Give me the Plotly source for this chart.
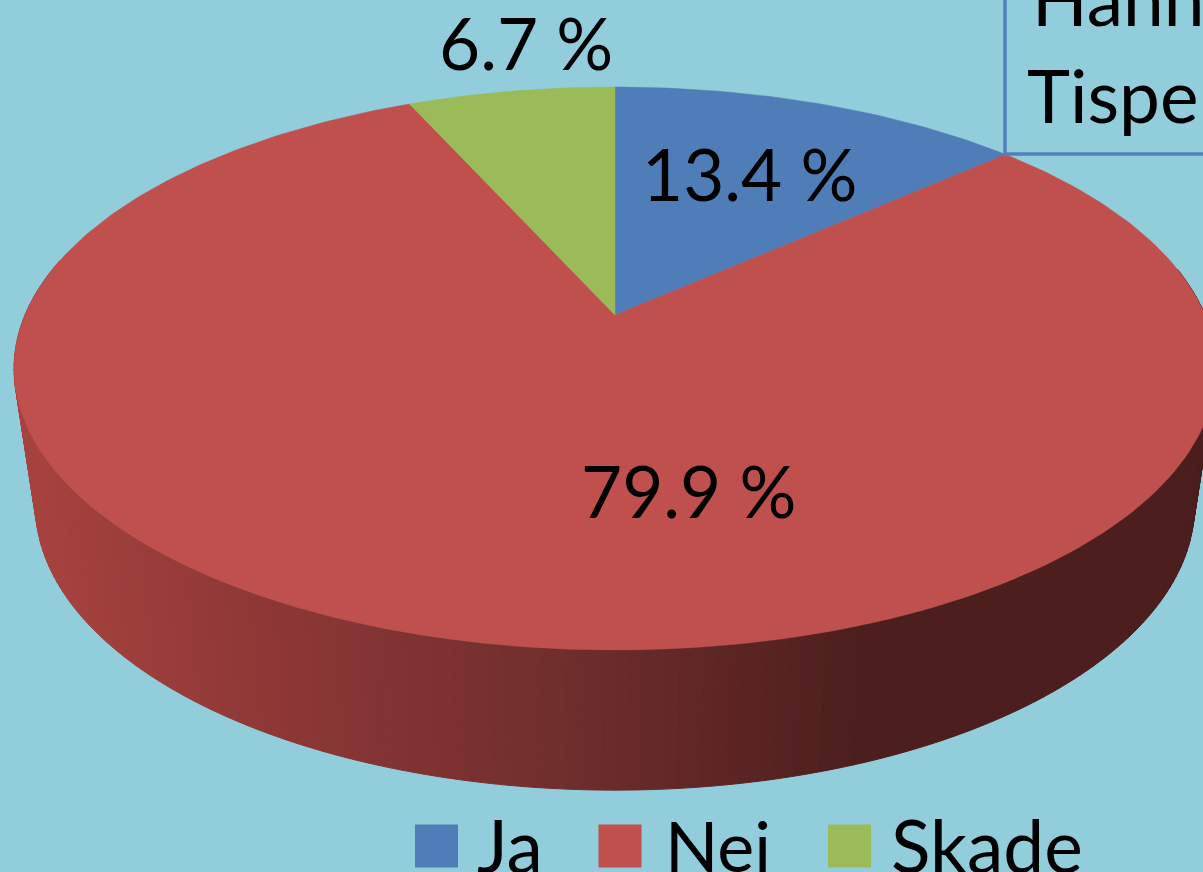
import math
import plotly.graph_objects as go

categories = ["Ja", "Nei", "Skade"]
values = [13.4, 79.9, 6.7]
labels = ["13.4 %", "79.9 %", "6.7 %"]
box_lines = ["Hannhund", "Tispe"]

BG = "#92CDDC"
COLORS = {"Ja": "#4F7DB8", "Nei": "#BF504D", "Skade": "#9BBB59"}
FONT = "Lato"
W, H = 1203, 872

# Perspective projection of the pie disc, pixel-space axes
K = 0.19
TOP = dict(cx=615, cy=315, a=271.3, b=590)
BOT = dict(cx=615, cy=451, a=274.7, b=569)


def project(deg, r=1.0, d=TOP):
    t = math.radians(deg)
    u, v = r * math.sin(t), r * math.cos(t)
    w = 1 + K * v
    return d["cx"] + d["b"] * u / w, d["cy"] - d["a"] * v / w


def side_color(x):
    stops = [(20, (170, 67, 64)), (300, (139, 55, 53)), (560, (112, 46, 45)),
             (860, (76, 30, 30)), (1300, (76, 30, 30))]
    for (x0, c0), (x1, c1) in zip(stops, stops[1:]):
        if x <= x1:
            f = max(0, (x - x0) / (x1 - x0))
            return "rgb(%d,%d,%d)" % tuple(round(p + (q - p) * f) for p, q in zip(c0, c1))
    return "rgb(76,30,30)"


fig = go.Figure()

# Side wall of the "Nei" slice (visible front half), shaded strip by strip
step = 1.0
start = 80.0
n = int((282 - start) / step)
for i in range(n):
    a0, a1 = start + i * step, start + (i + 1) * step
    p0, p1 = project(a0), project(a1)
    q1, q0 = project(a1, d=BOT), project(a0, d=BOT)
    col = side_color((q0[0] + q1[0]) / 2)
    fig.add_trace(go.Scatter(
        x=[p0[0], p1[0], q1[0], q0[0], p0[0]],
        y=[p0[1], p1[1], q1[1], q0[1], p0[1]],
        mode="lines", fill="toself", fillcolor=col, line=dict(color=col, width=1),
        hoverinfo="skip", showlegend=False))

# Top face: slices computed from the values, clockwise from 12 o'clock
total = sum(values)
angle = 0.0
for cat, val in zip(categories, values):
    sweep = 360 * val / total
    m = max(4, int(sweep))
    pts = [project(angle + sweep * j / m) for j in range(m + 1)]
    xs = [TOP["cx"]] + [p[0] for p in pts] + [TOP["cx"]]
    ys = [TOP["cy"]] + [p[1] for p in pts] + [TOP["cy"]]
    fig.add_trace(go.Scatter(x=xs, y=ys, mode="lines", fill="toself",
                             fillcolor=COLORS[cat], line=dict(color=COLORS[cat], width=0.5),
                             name=cat, hoverinfo="skip", showlegend=False))
    angle += sweep

# Legend swatches
legend_x = [436.5, 620, 849.5]
for cat, lx in zip(categories, legend_x):
    fig.add_trace(go.Scatter(x=[lx], y=[846], mode="markers",
                             marker=dict(symbol="square", size=43, color=COLORS[cat], line=dict(width=0)),
                             name=cat, hoverinfo="skip", showlegend=False, cliponaxis=False))


def note(text, x, y, size=71, anchor="left", yshift=0):
    fig.add_annotation(x=x, y=y, text=text, showarrow=False, xanchor=anchor, yanchor="middle",
                       xref="x", yref="y", font=dict(family=FONT, size=size, color="#000000"),
                       align="left", yshift=yshift)


label_pos = [(749, 173), (688, 490), (526, 42)]
for lab, (x, y) in zip(labels, label_pos):
    note(lab, x, y, anchor="center")

for cat, x, size in zip(categories, [475, 663, 889], [73, 70, 73]):
    note(cat, x, 845, size=size)

note(box_lines[0], 1030, 0, size=73, yshift=2)
note(box_lines[1], 1025, 95, size=73)

fig.add_shape(type="rect", x0=1005, y0=-20, x1=1300, y1=154,
              line=dict(color="#4F81BD", width=3.5), fillcolor="rgba(0,0,0,0)", layer="above")

fig.update_layout(
    width=W, height=H, autosize=False,
    margin=dict(l=0, r=0, t=0, b=0, pad=0),
    paper_bgcolor=BG, plot_bgcolor=BG, showlegend=False,
    xaxis=dict(range=[0, W], visible=False, fixedrange=True),
    yaxis=dict(range=[H, 0], visible=False, fixedrange=True),
)

fig.write_html(
    "out.html",
    config={"displayModeBar": False},
    post_script=f"document.body.style.margin='0';document.body.style.background='{BG}';document.documentElement.style.overflow='hidden';",
)
